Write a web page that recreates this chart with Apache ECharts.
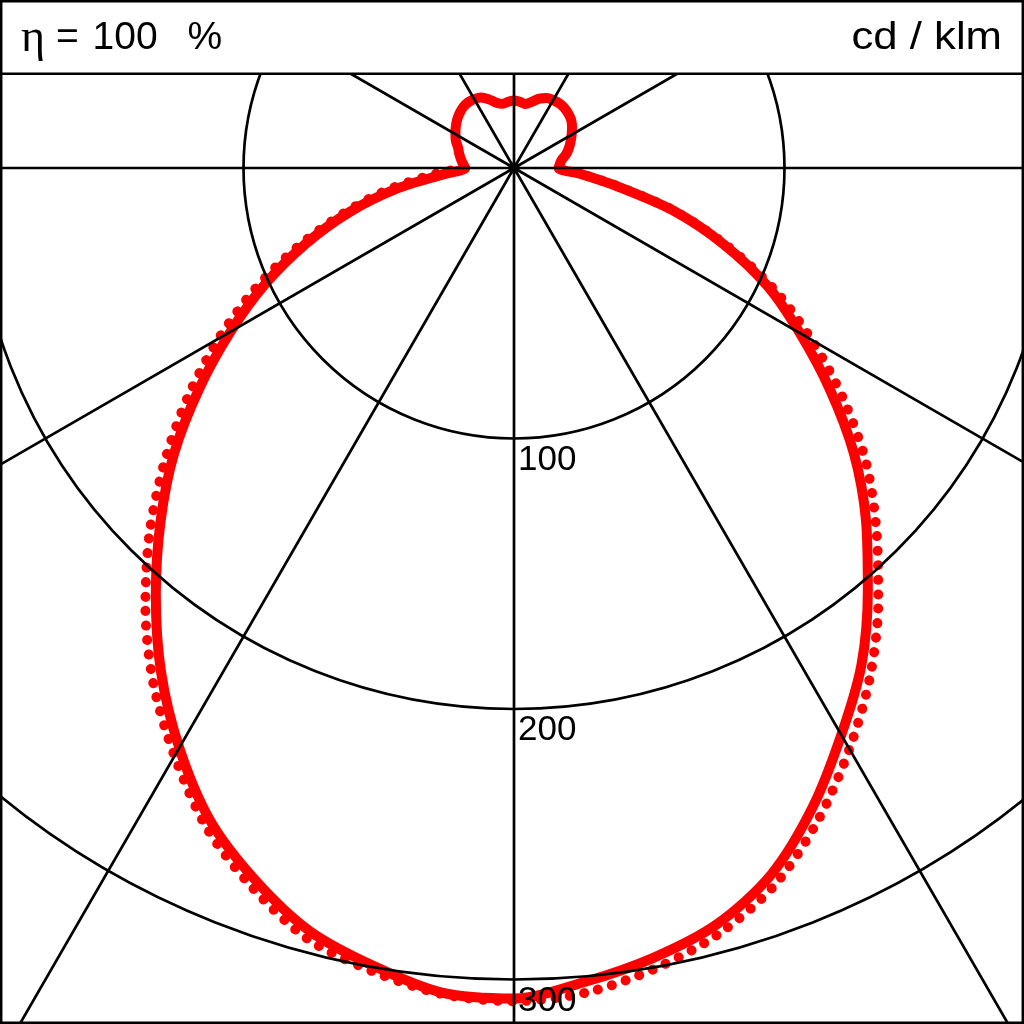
<!DOCTYPE html>
<html>
<head>
<meta charset="utf-8">
<script src="https://cdn.jsdelivr.net/npm/echarts@6/dist/echarts.min.js"></script>
<style>
  html, body { margin: 0; padding: 0; background: #fff; }
  #chart { width: 1024px; height: 1024px; }
</style>
</head>
<body>
<div id="chart"></div>
<script>
// Gamma angles (degrees from nadir)
const gammaSolid = [0,5,10,15,20,25,30,35,40,45,50,55,60,65,70,75,80,85,90,95,100,105,110,115,120,125,130,135,140,145,150,155,160,165,170,175,180];
// C0 plane (right half), cd/klm
const c0 = [307,302,296.5,289.5,278,261,242,224,203.5,184,164,142.5,122,103.5,82.5,61,38.5,24.5,16.5,17,18,20,21.6,23.1,24.6,26.2,27.6,28.4,29,29.2,29,28.6,27.3,25.3,24,24.6,25];
// C180 plane (left half), cd/klm
const c180 = [307,306,299.5,292,280,266,247.5,227.5,206,184.8,164,142,121,101.5,82,63,44,26,18,19,20,21,22,23.7,25,26.3,27.5,28.5,29.3,29.6,29.4,28.8,27,25,24.1,24.6,25];

const gammaDotted = [0,5,10,15,20,25,30,35,40,45,50,55,60,65,70,75,80,85,90];
// C90 plane (right half), cd/klm
const c90 = [308,306,300.5,293,282,266,248,229.5,209.5,189.5,170,148.5,127,106,83.5,61.5,39,25,17];
// C270 plane (left half), cd/klm
const c270 = [308,306.5,301.5,295,283,269,251,232.5,212,190.5,168.5,147,126,105.5,85,65.5,48,31,19];

const radiusTicks = [100, 200, 300];
const headerRight = 'cd / klm';

function loop(g, right, left) {
  const pts = [];
  for (let i = g.length - 1; i >= 0; i--) pts.push([right[i], g[i]]);
  for (let i = 1; i < g.length; i++) pts.push([left[i], 360 - g[i]]);
  return pts;
}

const chart = echarts.init(document.getElementById('chart'), null, { renderer: 'canvas' });
const gridStyle = { color: '#000', width: 2.7 };

chart.setOption({
  animation: false,
  backgroundColor: '#fff',
  polar: { center: [514, 168], radius: 1082 },
  angleAxis: {
    type: 'value', min: 0, max: 360, interval: 30,
    startAngle: 270, clockwise: false,
    axisLine: { show: false }, axisTick: { show: false }, axisLabel: { show: false },
    splitLine: { show: true, lineStyle: gridStyle },
    z: 10
  },
  radiusAxis: {
    type: 'value', min: 0, max: 400, interval: 100,
    axisLine: { show: false }, axisTick: { show: false },
    splitLine: { show: true, lineStyle: gridStyle },
    axisLabel: {
      show: true,
      formatter: v => radiusTicks.includes(v) ? String(v) : '',
      fontFamily: 'Liberation Sans', fontSize: 35, color: '#000',
      align: 'left', verticalAlign: 'top', margin: 4, padding: [4, 0, 0, 0]
    },
    z: 10
  },
  series: [
    {
      name: 'C90 / C270', type: 'line', coordinateSystem: 'polar',
      data: loop(gammaDotted, c90, c270),
      showSymbol: false, smooth: 0.3, z: 2,
      lineStyle: { color: '#ff0000', width: 10, type: [0.1, 14.4], cap: 'round' }
    },
    {
      name: 'C0 / C180', type: 'line', coordinateSystem: 'polar',
      data: loop(gammaSolid, c0, c180),
      showSymbol: false, smooth: 0.3, z: 3,
      lineStyle: { color: '#ff0000', width: 10, cap: 'round', join: 'round' }
    }
  ],
  graphic: [
    { type: 'rect', shape: { x: 0, y: 0, width: 1024, height: 74 }, style: { fill: '#fff' }, z: 100 },
    { type: 'line', shape: { x1: 0, y1: 73.8, x2: 1024, y2: 73.8 }, style: { stroke: '#000', lineWidth: 2.5 }, z: 101 },
    { type: 'rect', shape: { x: 1.2, y: 1.2, width: 1021.6, height: 1021.6 }, style: { fill: 'transparent', stroke: '#000', lineWidth: 2.5 }, z: 101 },
    {
      type: 'text', x: 21, y: 38.5, z: 102,
      style: {
        text: '{e|\u03b7}{t| = }{n|100}{p| %}',
        verticalAlign: 'middle', align: 'left', fill: '#000',
        rich: {
          e: { fontFamily: 'Liberation Serif', fontSize: 46, fill: '#000' },
          t: { fontFamily: 'Liberation Sans', fontSize: 39, fill: '#000' },
          n: { fontFamily: 'Liberation Sans', fontSize: 39, fill: '#000', padding: [0, 0, 0, 3] },
          p: { fontFamily: 'Liberation Sans', fontSize: 39, fill: '#000', padding: [0, 0, 0, 19] }
        }
      }
    },
    {
      type: 'text', x: 1002, y: 38.5, scaleX: 1.15, z: 102,
      style: { text: headerRight, font: '38px "Liberation Sans"', align: 'right', verticalAlign: 'middle', fill: '#000' }
    }
  ]
});
</script>
</body>
</html>
